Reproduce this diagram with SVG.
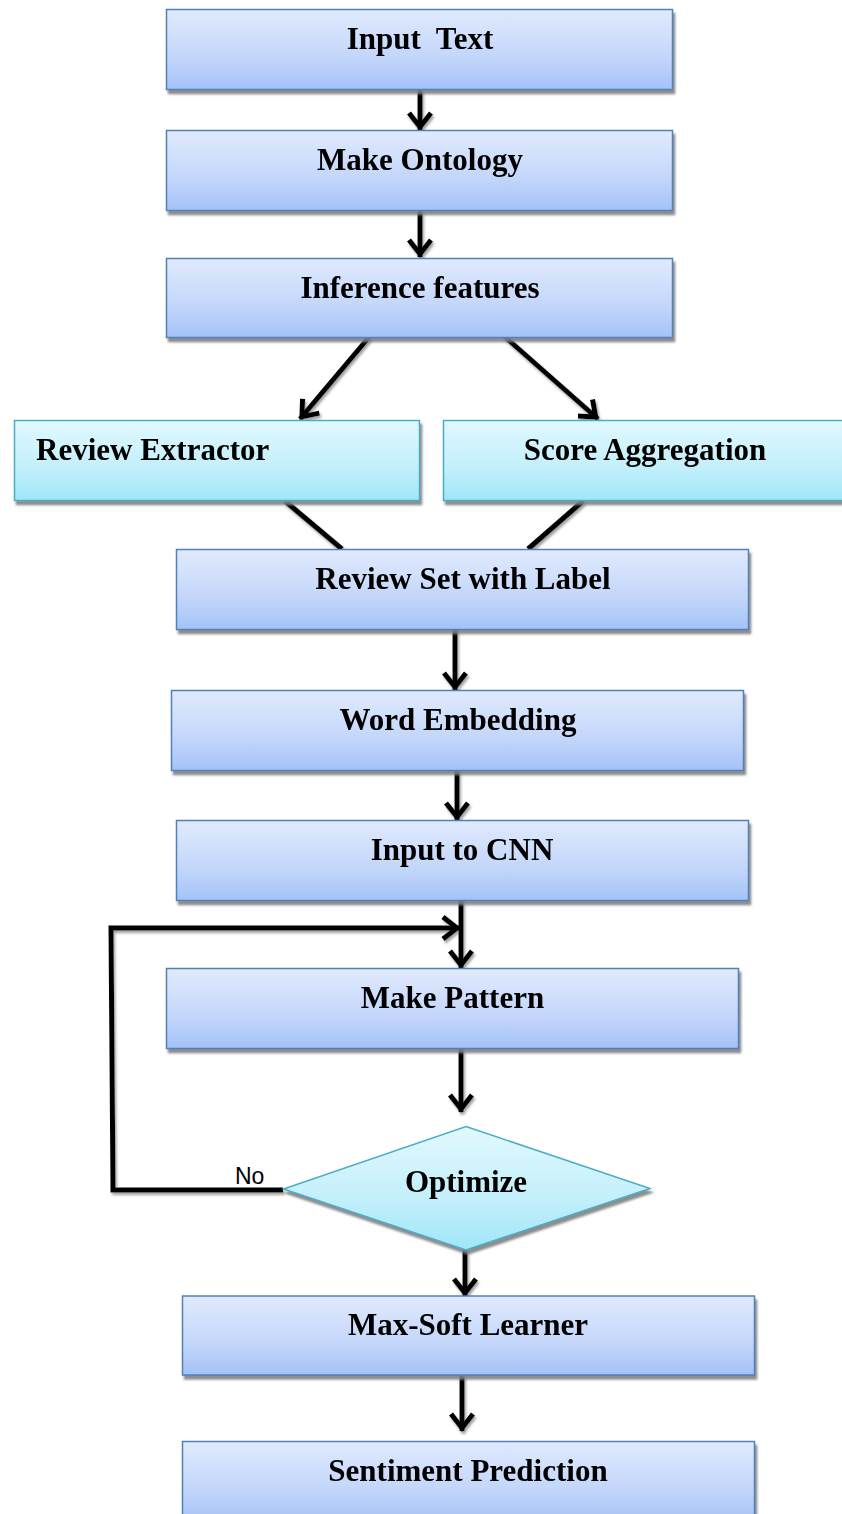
<svg xmlns="http://www.w3.org/2000/svg" width="842" height="1514" viewBox="0 0 842 1514">
  <style>
    .blue { fill: url(#gBlue); stroke: #4f81bd; stroke-width: 1.5; }
    .cyan { fill: url(#gCyan); stroke: #4bacc6; stroke-width: 1.5; }
    .lbl { font-family: "Liberation Serif", "Times New Roman", serif; font-weight: bold; font-size: 31px; fill: #000; text-anchor: middle; }
    .edge { stroke: #000; stroke-width: 5; fill: none; }
    .note { font-family: "Liberation Sans", Arial, sans-serif; font-size: 23px; fill: #000; }
  </style>
  <defs>
    <linearGradient id="gBlue" x1="0" y1="0" x2="0" y2="1">
      <stop offset="0" stop-color="#e0eafd"/>
      <stop offset="0.6" stop-color="#c3d6fa"/>
      <stop offset="1" stop-color="#a4c2f7"/>
    </linearGradient>
    <linearGradient id="gCyan" x1="0" y1="0" x2="0" y2="1">
      <stop offset="0" stop-color="#e2f8fe"/>
      <stop offset="0.6" stop-color="#c2effb"/>
      <stop offset="1" stop-color="#a0e6f8"/>
    </linearGradient>
    <filter id="shadow" x="-5%" y="-5%" width="115%" height="125%">
      <feDropShadow dx="2" dy="4" stdDeviation="0.8" flood-color="#808080" flood-opacity="0.9"/>
    </filter>
    <filter id="lineShadow" x="-20%" y="-20%" width="140%" height="140%">
      <feDropShadow dx="1.5" dy="2.5" stdDeviation="0.8" flood-color="#8a8a8a" flood-opacity="0.8"/>
    </filter>
    <marker id="arrow" markerUnits="userSpaceOnUse" markerWidth="34" markerHeight="34" viewBox="-20 -17 28 34" refX="3" refY="0" orient="auto">
      <path d="M -14 -11 L 0 0 L -14 11" fill="none" stroke="#000" stroke-width="5"/>
    </marker>
  </defs>

  <!-- connectors -->
  <g id="connectors" filter="url(#lineShadow)">
    <line class="edge" x1="420" y1="89" x2="420" y2="130" marker-end="url(#arrow)"/>
    <line class="edge" x1="420" y1="211" x2="420" y2="257" marker-end="url(#arrow)"/>
    <line class="edge" x1="370" y1="336" x2="300" y2="419" marker-end="url(#arrow)"/>
    <line class="edge" x1="504" y1="336" x2="598" y2="419" marker-end="url(#arrow)"/>
    <line class="edge" x1="285" y1="501" x2="342" y2="549"/>
    <line class="edge" x1="583" y1="501" x2="528" y2="549"/>
    <line class="edge" x1="455" y1="628" x2="455" y2="690" marker-end="url(#arrow)"/>
    <line class="edge" x1="457" y1="769" x2="457" y2="820" marker-end="url(#arrow)"/>
    <line class="edge" x1="461" y1="894" x2="461" y2="968" marker-end="url(#arrow)"/>
    <line class="edge" x1="461" y1="1048" x2="461" y2="1112" marker-end="url(#arrow)"/>
    <polyline class="edge" points="283,1190 113,1190 111,928 460,928" marker-end="url(#arrow)"/>
    <line class="edge" x1="465" y1="1249" x2="465" y2="1296" marker-end="url(#arrow)"/>
    <line class="edge" x1="462" y1="1374" x2="462" y2="1431" marker-end="url(#arrow)"/>
  </g>
  <text class="note" x="235" y="1184">No</text>

  <g id="input-text" filter="url(#shadow)">
    <rect class="blue" x="166.5" y="9.5" width="506" height="80"/>
    <text class="lbl" x="420" y="49" xml:space="preserve">Input  Text</text>
  </g>
  <g id="make-ontology" filter="url(#shadow)">
    <rect class="blue" x="166.5" y="130.5" width="506" height="80"/>
    <text class="lbl" x="420" y="170">Make Ontology</text>
  </g>
  <g id="inference-features" filter="url(#shadow)">
    <rect class="blue" x="166.5" y="258.5" width="506" height="79"/>
    <text class="lbl" x="420" y="298">Inference features</text>
  </g>
  <g id="review-extractor" filter="url(#shadow)">
    <rect class="cyan" x="14.5" y="420.5" width="405" height="80"/>
    <text class="lbl" x="36" y="460" style="text-anchor:start">Review Extractor</text>
  </g>
  <g id="score-aggregation" filter="url(#shadow)">
    <rect class="cyan" x="443.5" y="420.5" width="410" height="80"/>
    <text class="lbl" x="645" y="460">Score Aggregation</text>
  </g>
  <g id="review-set" filter="url(#shadow)">
    <rect class="blue" x="176.5" y="549.5" width="572" height="80"/>
    <text class="lbl" x="463" y="589">Review Set with Label</text>
  </g>
  <g id="word-embedding" filter="url(#shadow)">
    <rect class="blue" x="171.5" y="690.5" width="572" height="80"/>
    <text class="lbl" x="458" y="730">Word Embedding</text>
  </g>
  <g id="input-cnn" filter="url(#shadow)">
    <rect class="blue" x="176.5" y="820.5" width="572" height="80"/>
    <text class="lbl" x="462" y="860">Input to CNN</text>
  </g>
  <g id="make-pattern" filter="url(#shadow)">
    <rect class="blue" x="166.5" y="968.5" width="572" height="80"/>
    <text class="lbl" x="452.5" y="1008">Make Pattern</text>
  </g>
  <g id="optimize" filter="url(#shadow)">
    <polygon class="cyan" points="466,1126.5 650,1188.5 466,1250 283.5,1189"/>
    <text class="lbl" x="466" y="1192">Optimize</text>
  </g>
  <g id="max-soft" filter="url(#shadow)">
    <rect class="blue" x="182.5" y="1296" width="572" height="79"/>
    <text class="lbl" x="468" y="1335">Max-Soft Learner</text>
  </g>
  <g id="sentiment-prediction" filter="url(#shadow)">
    <rect class="blue" x="182.5" y="1441.5" width="572" height="80"/>
    <text class="lbl" x="468" y="1481">Sentiment Prediction</text>
  </g>
</svg>
